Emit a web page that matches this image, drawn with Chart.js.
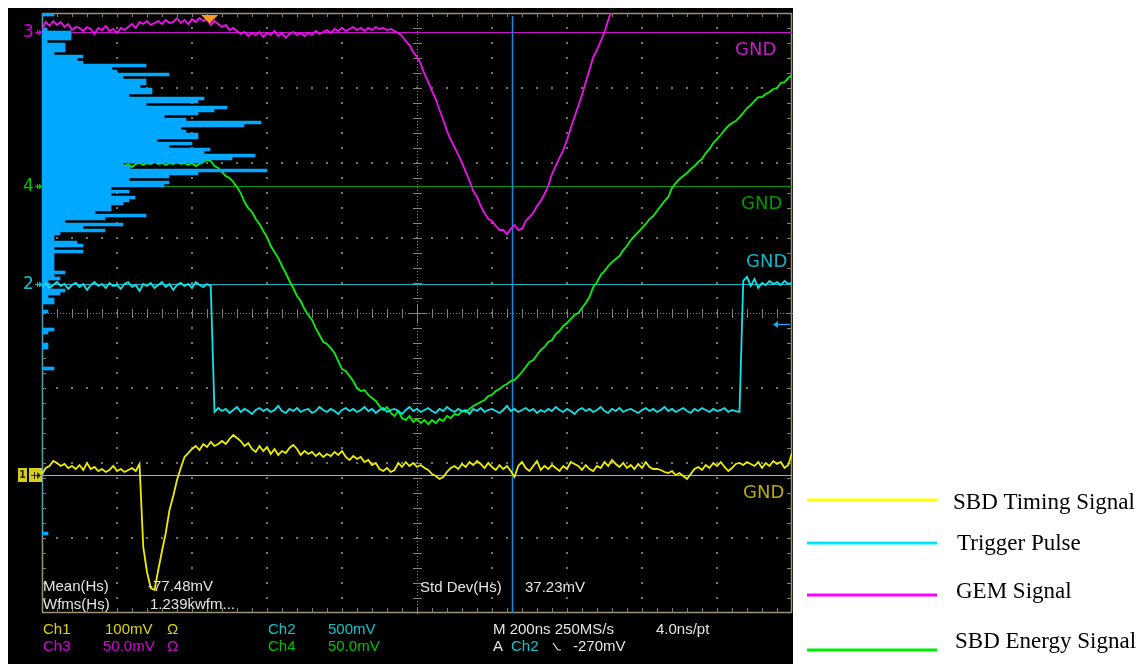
<!DOCTYPE html>
<html>
<head>
<meta charset="utf-8">
<title>Oscilloscope capture - SBD / GEM coincidence</title>
<script src="https://cdn.jsdelivr.net/npm/chart.js@4/dist/chart.umd.min.js"></script>
<style>
  html, body { margin: 0; padding: 0; background: #ffffff; }
  canvas { display: block; }
</style>
</head>
<body>
<canvas id="scope" width="1146" height="664"></canvas>
<script>
// ---- acquisition: one stored point every 10 ns, 10 div x 200 ns on screen ----
const SAMPLE_NS = 10;
const RECORD_NS = 2000;

// Ch1 - SBD timing signal (mV)
const ch1TimingMv = [
  1.3, 9.3, 12.0, 18.7, 16.0, 12.0, 14.7, 9.3, 12.0, 8.0,
  13.3, 6.7, 16.0, 8.0, 10.7, 5.3, 8.0, 4.0, 6.7, 12.0,
  5.3, 8.0, 4.0, 6.7, 9.3, 5.3, 14.7, -96.0, -129.3, -150.7,
  -153.3, -126.7, -101.3, -77.3, -46.7, -28.0, -6.7, 9.3, 24.0, 29.3,
  34.7, 38.7, 33.3, 41.3, 37.3, 44.0, 38.7, 41.3, 45.3, 41.3,
  48.0, 53.3, 49.3, 45.3, 38.7, 42.7, 34.7, 30.7, 38.7, 32.0,
  37.3, 28.0, 34.7, 26.7, 32.0, 29.3, 36.0, 40.0, 34.7, 26.7,
  32.0, 28.0, 30.7, 25.3, 29.3, 24.0, 28.0, 25.3, 30.7, 26.7,
  32.0, 24.0, 20.0, 25.3, 21.3, 24.0, 17.3, 20.0, 13.3, 16.0,
  8.0, 5.3, 9.3, 4.0, 6.7, 16.0, 10.7, 17.3, 12.0, 16.0,
  10.7, 13.3, 9.3, 6.7, 1.3, -1.3, -5.3, -2.7, 4.0, 9.3,
  12.0, 8.0, 14.7, 10.7, 17.3, 13.3, 18.7, 14.7, 9.3, 16.0,
  10.7, 6.7, 13.3, 8.0, 12.0, 5.3, -2.7, 12.0, 17.3, 9.3,
  5.3, 12.0, 18.7, 6.7, 12.0, 8.0, 13.3, 9.3, 5.3, 12.0,
  8.0, 17.3, 14.7, 12.0, 6.7, 13.3, 8.0, 5.3, 12.0, 9.3,
  17.3, 12.0, 20.0, 14.7, 10.7, 16.0, 9.3, 13.3, 8.0, 14.7,
  9.3, 17.3, 10.7, 8.0, 8.0, 6.7, 4.0, 2.7, 5.3, 0,
  2.7, -1.3, -5.3, 1.3, 8.0, 10.7, 6.7, 13.3, 9.3, 16.0,
  12.0, 17.3, 10.7, 5.3, 9.3, 14.7, 16.0, 13.3, 17.3, 14.7,
  12.0, 17.3, 9.3, 16.0, 12.0, 18.7, 14.7, 17.3, 9.3, 13.3, 29.3
];

// Ch2 - trigger pulse (mV)
const ch2TriggerMv = [
  -20, 7, -27, -7, 13, -13, 0, -33, -7, 7,
  -20, 0, -40, -7, 13, -13, 0, -27, 7, -13,
  -7, -33, 0, 13, -20, -7, -47, 0, -13, 7,
  -27, -7, 13, -20, 0, -40, -7, 7, -13, 0,
  -27, 13, -7, -20, 0, -13,
  -853, -827, -847, -833, -860, -840, -820, -853, -833, -847,
  -867, -840, -827, -847, -833, -853, -840, -813, -847, -860,
  -833, -847, -827, -853, -840, -833, -860, -847, -820, -840,
  -853, -833, -847, -867, -840, -827, -847, -833, -853, -840,
  -820, -847, -833, -860, -840, -827, -853, -840, -833, -847,
  -867, -840, -820, -847, -833, -853, -840, -827, -847, -860,
  -833, -847, -820, -840, -853, -833, -847, -840, -867, -833,
  -847, -827, -853, -840, -833, -847, -860, -840, -813, -847,
  -833, -853, -840, -827, -847, -833, -860, -840, -853, -833,
  -847, -820, -840, -853, -833, -847, -867, -840, -827, -847,
  -833, -853, -840, -820, -847, -860, -833, -847, -827, -853,
  -840, -833, -847, -860, -840, -827, -847, -833, -853, -840,
  -820, -847, -833, -853, -840, -827, -847, -860, -833, -847,
  -827, -840, -853, -833, -847, -840, -827, -853, -840, -847,
  -853,
  20, 47, -13, 33, -27, 7, -7, 20, 0, 13, -7, 20, 0, 7
];

// Ch3 - GEM signal (mV); the record leaves the top of the screen after ~1.52 us
const ch3GemMv = [
  1.3, 6.7, 4.0, 7.3, 4.7, 6.7, 3.3, 5.3, 1.3, 3.3,
  2.7, 0.7, 3.3, 2.0, -1.3, 2.7, 1.3, 4.0, 0.7, 2.0,
  -0.7, 2.7, 1.3, 3.3, 5.3, 2.7, 6.7, 5.3, 7.3, 4.7,
  6.0, 7.3, 5.3, 8.0, 6.0, 6.7, 9.3, 6.0, 8.0, 5.3,
  8.7, 6.7, 9.3, 7.3, 8.7, 4.7, 7.3, 5.3, 3.3, 4.7,
  1.3, 2.7, 0.7, -1.3, 0, -2.7, -0.7, -2.0, 0, -3.3,
  -0.7, -2.0, 0.7, -2.7, -0.7, -4.0, -1.3, 0, -2.0, -0.7,
  -2.7, -0.7, -2.0, 0.7, -1.3, 0, 1.3, -0.7, 2.0, 0.7,
  2.7, 0.7, 2.0, 3.3, 1.3, 2.7, 0.7, 2.7, 1.3, 3.3,
  2.0, 2.7, 1.3, 2.0, 0.7, -0.7, -2.7, -6.0, -8.7, -13.3,
  -16.7, -21.3, -28.0, -33.3, -39.3, -44.7, -52.0, -58.7, -66.0, -72.0,
  -76.7, -82.0, -87.3, -93.3, -99.3, -106.0, -110.0, -116.0, -120.7, -124.7,
  -126.0, -129.3, -132.0, -132.0, -134.7, -131.3, -128.7, -132.0, -131.3, -126.0,
  -123.3, -120.7, -116.0, -112.7, -108.0, -102.7, -94.7, -89.3, -84.0, -78.7,
  -72.0, -64.0, -56.7, -49.3, -42.0, -33.3, -25.3, -16.7, -12.0, -6.0,
  0, 8.0, 15.3
];

// Ch4 - SBD energy signal (mV)
const ch4EnergyMv = [
  14.0, 15.3, 13.3, 14.7, 16.0, 14.0, 15.3, 13.3, 14.7, 16.0,
  14.0, 15.3, 14.7, 13.3, 15.3, 14.0, 16.0, 14.7, 13.3, 15.3,
  14.0, 15.3, 13.3, 14.7, 12.7, 14.7, 15.3, 14.0, 15.3, 14.7,
  16.0, 14.7, 15.3, 14.0, 15.3, 14.7, 16.0, 14.7, 15.3, 14.0,
  15.3, 13.3, 14.7, 16.0, 17.3, 16.7, 13.3, 12.0, 9.3, 6.7,
  5.3, 2.7, -0.7, -4.7, -10.7, -14.7, -17.3, -22.0, -25.3, -30.0,
  -34.0, -40.0, -44.0, -48.0, -53.3, -58.0, -63.3, -68.0, -73.3, -76.7,
  -82.0, -86.0, -89.3, -94.7, -99.3, -104.0, -105.3, -108.0, -111.3, -116.7,
  -122.0, -123.3, -126.7, -130.0, -134.7, -136.7, -136.0, -139.3, -141.3, -143.3,
  -146.7, -149.3, -147.3, -151.3, -153.3, -150.0, -154.7, -156.0, -153.3, -157.3,
  -155.3, -158.0, -156.0, -158.7, -156.0, -158.0, -155.3, -156.7, -153.3, -154.7,
  -152.0, -152.7, -150.0, -150.7, -148.7, -146.7, -145.3, -144.0, -142.7, -140.0,
  -139.3, -136.7, -135.3, -133.3, -132.0, -130.0, -129.3, -126.7, -124.0, -120.7,
  -117.3, -116.0, -112.7, -109.3, -107.3, -104.0, -102.7, -98.7, -96.7, -93.3,
  -91.3, -88.7, -86.0, -84.7, -81.3, -78.0, -74.0, -67.3, -64.0, -59.3,
  -56.7, -53.3, -50.7, -48.7, -46.7, -42.7, -40.0, -36.0, -33.3, -30.7,
  -28.0, -25.3, -22.0, -20.0, -16.7, -13.3, -10.0, -7.3, -1.3, 2.0,
  4.7, 6.7, 8.7, 11.3, 13.3, 16.0, 18.0, 22.0, 24.7, 28.7,
  31.3, 34.0, 37.3, 40.0, 42.0, 43.3, 46.0, 48.7, 52.0, 54.0,
  56.7, 59.3, 59.3, 61.3, 62.7, 64.7, 65.3, 68.7, 69.3, 72.0, 74.0
];

// Horizontal waveform histogram: hits per 0.04-div bin, counted from the top of the screen
const HIST_BIN_DIV = 0.04;
const histCounts = [
  12, 0, 0, 0, 0, 5, 29, 29, 29, 5,
  23, 23, 23, 12, 41, 35, 41, 104, 70, 75,
  127, 81, 104, 104, 98, 110, 110, 87, 162, 156,
  104, 185, 172, 156, 122, 144, 219, 202, 139, 144,
  156, 156, 115, 150, 127, 168, 162, 213, 190, 162,
  81, 88, 225, 156, 127, 87, 127, 122, 69, 87,
  69, 93, 87, 81, 69, 69, 53, 104, 63, 23,
  81, 41, 63, 18, 12, 12, 35, 41, 12, 41,
  12, 12, 12, 12, 12, 12, 23, 12, 18, 6,
  8, 8, 23, 18, 6, 12, 12, 0, 0, 6,
  0, 0, 0, 0, 0, 12, 6, 0, 0, 0,
  6, 6, 0, 0, 0, 0, 0, 0, 12, 0,
  0, 0, 0, 0, 0, 0, 0, 0, 0, 0,
  0, 0, 0, 0, 0, 0, 0, 0, 0, 0,
  0, 0, 0, 0, 0, 0, 0, 0, 0, 0,
  0, 0, 0, 0, 0, 0, 0, 0, 0, 0,
  0, 0, 0, 0, 0, 0, 0, 0, 0, 0,
  0, 0, 0, 6
];

const legendLabels = ['SBD Timing Signal', 'Trigger Pulse', 'GEM Signal', 'SBD Energy Signal'];

// scope settings
const triggerNs = 447;        // trigger point marker
const cursorNs = 1253;        // vertical cursor
const triggerLevelMv = -270;  // A Ch2 falling edge level

// per-channel vertical settings and colours
const channels = [
  { id: 'Ch1', mvPerDiv: 100, offsetDiv: -2.16, trace: '#eeee00', ref: '#c4bc18', text: '#dcd400', gnd: '#b8aa10' },
  { id: 'Ch2', mvPerDiv: 500, offsetDiv: 0.387, trace: '#12e2ea', ref: '#16b8c6', text: '#10c4cc', gnd: '#10b4c4' },
  { id: 'Ch3', mvPerDiv: 50,  offsetDiv: 3.747, trace: '#f210f2', ref: '#d010d0', text: '#d800d8', gnd: '#c818c8' },
  { id: 'Ch4', mvPerDiv: 50,  offsetDiv: 1.693, trace: '#0af00a', ref: '#089a08', text: '#00c400', gnd: '#009800' }
];
const legendColors = ['#ffff00', '#00e8ff', '#ff00ff', '#00ee00'];

function toScreen(values, ch) {
  const c = channels[ch];
  return values.map((mv, i) => ({ x: i * SAMPLE_NS, y: c.offsetDiv + mv / c.mvPerDiv }));
}

function traceDataset(values, ch) {
  return {
    type: 'line',
    label: legendLabels[ch],
    data: toScreen(values, ch),
    borderColor: channels[ch].trace,
    borderWidth: 1.8,
    pointRadius: 0,
    tension: 0,
    fill: false,
    xAxisID: 'x',
    yAxisID: 'y'
  };
}

const histogramDataset = {
  type: 'bar',
  label: 'Histogram',
  indexAxis: 'y',
  xAxisID: 'xh',
  yAxisID: 'y',
  data: histCounts.map((n, k) => ({ x: n, y: 4 - HIST_BIN_DIV * (k + 0.5) })),
  backgroundColor: '#00a8ff',
  borderWidth: 0,
  barThickness: 3,
  grouped: false
};

// ---------------- overlay drawing (graticule, markers, readouts, legend) ----------------
function txt(c, s, x, y, color, font, align) {
  c.fillStyle = color;
  c.font = font;
  c.textAlign = align || 'left';
  c.textBaseline = 'middle';
  c.fillText(s, x, y);
}

function drawGraticule(c, a) {
  const divX = (a.right - a.left) / 10, divY = (a.bottom - a.top) / 8;
  const stepX = divX / 5, stepY = divY / 5;
  const cx = Math.round(a.left + 5 * divX), cy = Math.round(a.top + 4 * divY);
  c.save();
  c.fillStyle = '#7c745c';
  for (let j = 1; j < 10; j++) {
    if (j === 5) continue;
    const x = Math.round(a.left + j * divX);
    for (let k = 1; k < 40; k++) c.fillRect(x - 1, Math.round(a.top + k * stepY) - 1, 2, 2);
  }
  for (let j = 1; j < 8; j++) {
    if (j === 4) continue;
    const y = Math.round(a.top + j * divY);
    for (let k = 1; k < 50; k++) c.fillRect(Math.round(a.left + k * stepX) - 1, y - 1, 2, 2);
  }
  // centre axes: fine dotting with minor ticks
  c.fillStyle = '#8a8268';
  for (let k = 0; k <= 250; k++) c.fillRect(Math.round(a.left + k * stepX / 5), cy, 1, 1);
  for (let k = 0; k <= 200; k++) c.fillRect(cx, Math.round(a.top + k * stepY / 5), 1, 1);
  for (let k = 1; k < 50; k++) c.fillRect(Math.round(a.left + k * stepX), cy - 4, 1, 9);
  for (let k = 1; k < 40; k++) c.fillRect(cx - 4, Math.round(a.top + k * stepY), 9, 1);
  c.fillRect(cx - 9, cy, 19, 1);
  c.fillRect(cx, cy - 9, 1, 19);
  // frame with edge ticks
  c.strokeStyle = '#9a9474';
  c.lineWidth = 1.5;
  c.strokeRect(a.left + 0.5, a.top + 0.5, a.right - a.left - 1, a.bottom - a.top - 1);
  c.fillStyle = '#8a8268';
  for (let k = 1; k < 50; k++) {
    const x = Math.round(a.left + k * stepX);
    c.fillRect(x, a.top, 1, 4);
    c.fillRect(x, a.bottom - 5, 1, 5);
  }
  for (let k = 1; k < 40; k++) {
    const y = Math.round(a.top + k * stepY);
    c.fillRect(a.left, y, 4, 1);
    c.fillRect(a.right - 5, y, 5, 1);
  }
  c.restore();
}

const scopeOverlay = {
  id: 'scopeOverlay',
  beforeDraw(chart) {
    const c = chart.ctx, a = chart.chartArea;
    c.save();
    c.fillStyle = '#ffffff';
    c.fillRect(0, 0, chart.width, chart.height);
    c.fillStyle = '#000000';
    c.fillRect(8, 8, a.right + 1 - 8, chart.height - 8);
    c.restore();
  },
  beforeDatasetsDraw(chart) {
    const c = chart.ctx, a = chart.chartArea;
    const xs = chart.scales.x, ys = chart.scales.y;
    drawGraticule(c, a);
    c.save();
    // channel ground reference lines
    channels.forEach(ch => {
      const gy = Math.round(ys.getPixelForValue(ch.offsetDiv)) + 0.5;
      c.strokeStyle = ch.ref;
      c.lineWidth = 1.2;
      c.beginPath();
      c.moveTo(a.left, gy);
      c.lineTo(a.right, gy);
      c.stroke();
    });
    // vertical cursor
    const cxp = Math.round(xs.getPixelForValue(cursorNs)) + 0.5;
    c.strokeStyle = '#0a8ee2';
    c.lineWidth = 1.5;
    c.beginPath();
    c.moveTo(cxp, a.top + 3);
    c.lineTo(cxp, a.bottom);
    c.stroke();
    c.restore();
  },
  afterDatasetsDraw(chart) {
    const c = chart.ctx, a = chart.chartArea;
    const xs = chart.scales.x, ys = chart.scales.y;
    c.save();

    // channel position markers on the left edge
    [[2, '3'], [3, '4'], [1, '2']].forEach(([ci, label]) => {
      const ch = channels[ci];
      const gy = Math.round(ys.getPixelForValue(ch.offsetDiv)) + 0.5;
      txt(c, label, 23, gy, ch.text, '17px "DejaVu Sans"');
      c.strokeStyle = ch.text;
      c.lineWidth = 1;
      c.beginPath();
      c.moveTo(35, gy);
      c.lineTo(41, gy);
      c.moveTo(37.5, gy - 2.5);
      c.lineTo(37.5, gy + 2.5);
      c.stroke();
      c.fillStyle = ch.text;
      c.beginPath();
      c.moveTo(39, gy - 3);
      c.lineTo(42.5, gy);
      c.lineTo(39, gy + 3);
      c.closePath();
      c.fill();
    });
    // Ch1 marker tab
    {
      const gy = Math.round(ys.getPixelForValue(channels[0].offsetDiv));
      c.fillStyle = '#d6ce1e';
      c.fillRect(18, gy - 7, 9, 14);
      c.fillRect(29, gy - 7, 13, 14);
      txt(c, '1', 22.5, gy, '#2a2600', 'bold 10px "DejaVu Sans"', 'center');
      c.strokeStyle = '#2a2600';
      c.lineWidth = 1;
      c.beginPath();
      c.moveTo(31, gy + 0.5);
      c.lineTo(40, gy + 0.5);
      c.moveTo(34.5, gy - 3);
      c.lineTo(34.5, gy + 4);
      c.stroke();
      c.fillStyle = '#2a2600';
      c.beginPath();
      c.moveTo(37, gy - 3);
      c.lineTo(41, gy + 0.5);
      c.lineTo(37, gy + 4);
      c.closePath();
      c.fill();
    }

    // trigger position marker
    const tx = xs.getPixelForValue(triggerNs);
    c.fillStyle = '#ff9a1e';
    c.beginPath();
    c.moveTo(tx - 8.5, a.top + 2);
    c.lineTo(tx + 8.5, a.top + 2);
    c.lineTo(tx, a.top + 10.5);
    c.closePath();
    c.fill();

    // trigger level marker (Ch2)
    const ty = Math.round(ys.getPixelForValue(channels[1].offsetDiv + triggerLevelMv / channels[1].mvPerDiv)) + 0.5;
    c.strokeStyle = '#22a4ee';
    c.fillStyle = '#22a4ee';
    c.lineWidth = 1.2;
    c.beginPath();
    c.moveTo(a.right - 16, ty);
    c.lineTo(a.right - 2, ty);
    c.stroke();
    c.beginPath();
    c.moveTo(a.right - 19, ty);
    c.lineTo(a.right - 14, ty - 3.5);
    c.lineTo(a.right - 14, ty + 3.5);
    c.closePath();
    c.fill();

    // ground labels
    const gndFont = '18px "DejaVu Sans"';
    const gndPos = [[0, 743, 18], [1, 746, -22], [2, 735, 18], [3, 741, 18]];
    gndPos.forEach(([ci, gx, dy]) => {
      const gy = ys.getPixelForValue(channels[ci].offsetDiv);
      txt(c, 'GND', gx, gy + dy, channels[ci].gnd, gndFont);
    });

    // measurement readouts
    const f = '15px "Liberation Sans"';
    const w = '#e4e4e4';
    txt(c, 'Mean(Hs)', 43, 587, w, f);
    txt(c, '-77.48mV', 148, 587, w, f);
    txt(c, 'Wfms(Hs)', 43, 605, w, f);
    txt(c, '1.239kwfm...', 150, 605, w, f);
    txt(c, 'Std Dev(Hs)', 420, 588, w, f);
    txt(c, '37.23mV', 525, 588, w, f);

    // channel settings
    txt(c, 'Ch1', 43, 630, channels[0].text, f);
    txt(c, '100mV', 105, 630, channels[0].text, f);
    txt(c, '\u03A9', 167, 630, channels[0].text, f);
    txt(c, 'Ch3', 43, 647, channels[2].text, f);
    txt(c, '50.0mV', 103, 647, channels[2].text, f);
    txt(c, '\u03A9', 167, 647, channels[2].text, f);
    txt(c, 'Ch2', 268, 630, channels[1].text, f);
    txt(c, '500mV', 328, 630, channels[1].text, f);
    txt(c, 'Ch4', 268, 647, channels[3].text, f);
    txt(c, '50.0mV', 328, 647, channels[3].text, f);

    // timebase and trigger
    txt(c, 'M 200ns 250MS/s', 493, 630, w, f);
    txt(c, '4.0ns/pt', 656, 630, w, f);
    txt(c, 'A', 493, 647, w, f);
    txt(c, 'Ch2', 511, 647, channels[1].text, f);
    c.strokeStyle = w;
    c.lineWidth = 1.2;
    c.beginPath();
    c.moveTo(553, 643);
    c.lineTo(558, 650);
    c.lineTo(561, 650);
    c.stroke();
    txt(c, '-270mV', 573, 647, w, f);

    // legend
    const legendY = [500, 543, 595, 650];
    const legendTextY = [503, 544, 592, 642];
    const legendTextX = [953, 957, 956, 955];
    legendLabels.forEach((name, i) => {
      c.strokeStyle = legendColors[i];
      c.lineWidth = 3;
      c.beginPath();
      c.moveTo(807, legendY[i]);
      c.lineTo(937, legendY[i]);
      c.stroke();
      txt(c, name, legendTextX[i], legendTextY[i], '#000000', '23px "Liberation Serif"');
    });

    c.restore();
  }
};

new Chart(document.getElementById('scope'), {
  type: 'line',
  data: {
    datasets: [
      traceDataset(ch1TimingMv, 0),
      traceDataset(ch2TriggerMv, 1),
      traceDataset(ch3GemMv, 2),
      histogramDataset,
      traceDataset(ch4EnergyMv, 3)
    ]
  },
  options: {
    responsive: false,
    animation: false,
    devicePixelRatio: 1,
    events: [],
    layout: { padding: { left: 42, top: 13, right: 354, bottom: 51 } },
    plugins: { legend: { display: false }, tooltip: { enabled: false } },
    scales: {
      x: { type: 'linear', min: 0, max: RECORD_NS, offset: false, display: false },
      xh: { type: 'linear', axis: 'x', min: 0, max: 750, offset: false, display: false },
      y: { type: 'linear', min: -4, max: 4, offset: false, grid: { offset: false }, display: false }
    }
  },
  plugins: [scopeOverlay]
});
</script>
</body>
</html>
